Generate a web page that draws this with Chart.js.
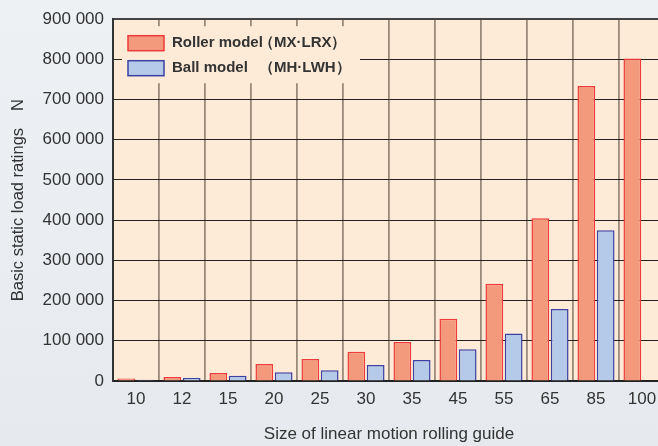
<!DOCTYPE html>
<html>
<head>
<meta charset="utf-8">
<script src="https://cdn.jsdelivr.net/npm/chart.js@4"></script>
<style>
  html, body { margin: 0; padding: 0; overflow: hidden; }
  body { width: 658px; height: 446px; background: linear-gradient(#eef1f4, #e6eaee); }
  canvas { display: block; }
</style>
</head>
<body>
<canvas id="loadChart" width="680" height="446"></canvas>
<script>
// sizes of linear motion rolling guide
const sizes = ['10', '12', '15', '20', '25', '30', '35', '45', '55', '65', '85', '100'];
// basic static load ratings, N
const rollerValues = [6000, 10000, 20000, 42000, 55000, 73000, 97000, 155000, 242000, 405000, 734000, 802000];
const ballValues = [3000, 7500, 13000, 21500, 27000, 40000, 52000, 79000, 118000, 179000, 375000, null];
const seriesLabels = ['Roller model（MX·LRX）', 'Ball model　（MH·LWH）'];
const yTicks = [0, 100000, 200000, 300000, 400000, 500000, 600000, 700000, 800000, 900000];

const plotBg = '#fdebd8';
const font = "'Liberation Sans', Arial, Helvetica, sans-serif";

// plot background + legend box over the grid
const plotDecor = {
    id: 'plotDecor',
    beforeDraw(chart) {
        const { ctx, chartArea: a } = chart;
        ctx.save();
        ctx.fillStyle = plotBg;
        ctx.fillRect(a.left, a.top, a.right - a.left, a.bottom - a.top);
        ctx.restore();
    },
    beforeDatasetsDraw(chart) {
        const { ctx, chartArea: a } = chart;
        const x = a.left + 9, y = a.top + 7;
        ctx.save();
        ctx.fillStyle = plotBg;
        ctx.fillRect(x, y, 238, 57);
        ctx.font = 'bold 15px ' + font;
        ctx.textBaseline = 'middle';
        chart.data.datasets.forEach((ds, i) => {
            const cy = y + 17 + i * 25;
            ctx.fillStyle = ds.backgroundColor;
            ctx.strokeStyle = ds.borderColor;
            ctx.lineWidth = 1.5;
            ctx.fillRect(x + 6, cy - 7.5, 36, 15);
            ctx.strokeRect(x + 6, cy - 7.5, 36, 15);
            const [name, code] = ds.label.split('（');
            ctx.fillStyle = '#333';
            ctx.fillText(name.trim(), x + 50, cy);
            ctx.fillText('（' + code, x + 137, cy);
        });
        ctx.restore();
    }
};

new Chart(document.getElementById('loadChart'), {
    type: 'bar',
    data: {
        labels: sizes,
        datasets: [
            {
                label: seriesLabels[0],
                data: rollerValues,
                backgroundColor: '#f49a7c',
                borderColor: '#ee3a3a',
                borderWidth: 1.5
            },
            {
                label: seriesLabels[1],
                data: ballValues,
                backgroundColor: '#b5c9e9',
                borderColor: '#3b40a3',
                borderWidth: 1.5
            }
        ]
    },
    options: {
        responsive: false,
        animation: false,
        devicePixelRatio: 1,
        categoryPercentage: 0.84,
        barPercentage: 0.92,
        layout: { padding: { top: 18, right: 15, left: 0, bottom: 0 } },
        plugins: {
            legend: { display: false },
            tooltip: { enabled: false }
        },
        scales: {
            x: {
                grid: {
                    offset: true,
                    color: '#9a8a7a',
                    lineWidth: 1.8,
                    drawTicks: false
                },
                border: { display: true, color: '#222', width: 2 },
                ticks: {
                    color: '#333',
                    padding: 8,
                    font: { family: font, size: 17 }
                },
                title: {
                    display: true,
                    text: 'Size of linear motion rolling guide',
                    color: '#333',
                    font: { family: font, size: 17 },
                    padding: { top: 10, bottom: 1 }
                },
                afterFit(scale) { scale.height = 65; }
            },
            y: {
                min: 0,
                max: 900000,
                afterBuildTicks(scale) {
                    scale.ticks = yTicks.map(v => ({ value: v }));
                },
                grid: {
                    color: (c) => c.tick && c.tick.value === 900000 ? '#444' : '#222',
                    lineWidth: (c) => c.tick && c.tick.value === 900000 ? 2 : 1,
                    drawTicks: false
                },
                border: { display: true, color: '#333', width: 2 },
                ticks: {
                    color: '#333',
                    padding: 9,
                    font: { family: font, size: 17 }
                    ,
                    callback: (v) => String(v).replace(/\B(?=(\d{3})+(?!\d))/g, ' ')
                },
                title: {
                    display: true,
                    text: 'Basic static load ratings　N',
                    color: '#333',
                    font: { family: font, size: 16.5 },
                    padding: { top: 9, bottom: 0 }
                },
                afterFit(scale) { scale.width = 113; }
            }
        }
    },
    plugins: [plotDecor]
});
</script>
</body>
</html>
